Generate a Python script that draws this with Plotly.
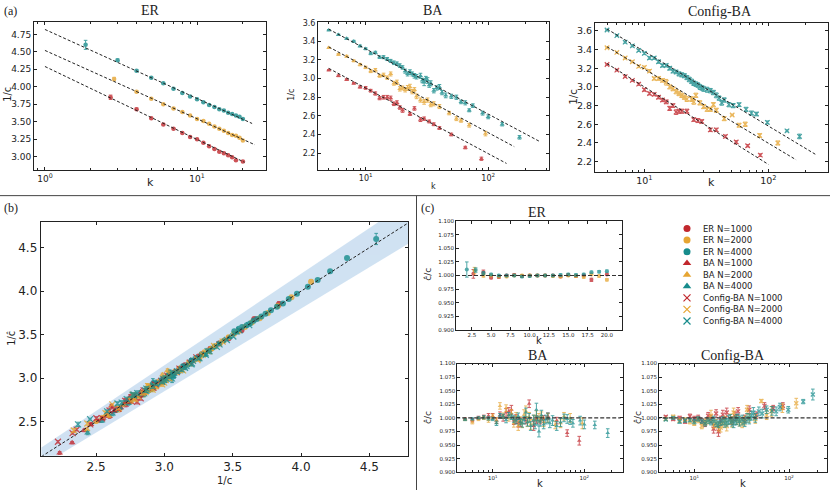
import plotly.graph_objects as go

W, H = 830, 493

RED = '#c1272d'
ORANGE = '#e6a532'
TEAL = '#178c8c'

# ---------------- ER ----------------
er1_k = [2.7, 4, 5, 6, 7, 8, 9, 10, 11, 12, 13, 14, 15, 16, 17, 18, 20]
er1_ic = [3.85, 3.68, 3.55, 3.46, 3.40, 3.34, 3.28, 3.25, 3.20, 3.15, 3.11, 3.07, 3.05, 3.02, 2.99, 2.95, 2.93]
er1_r = [1.003, 1.006, 0.996, 0.997, 1.000, 1.001, 0.999, 1.000, 1.000, 1.000, 1.000, 0.998, 1.001, 0.999, 1.000, 0.992, 1.002]
er1_e = [0.008, 0.004, 0.002, 0.002, 0.002, 0.002, 0.002, 0.002, 0.002, 0.002, 0.002, 0.002, 0.002, 0.002, 0.002, 0.003, 0.002]

er2_k = [2.85, 4, 5, 6, 7, 8, 9, 10, 11, 12, 13, 14, 15, 16, 17, 18, 19, 20]
er2_ic = [4.11, 3.93, 3.83, 3.75, 3.69, 3.64, 3.59, 3.54, 3.51, 3.47, 3.43, 3.40, 3.37, 3.34, 3.31, 3.30, 3.27, 3.23]
er2_r = [1.009, 1.000, 1.000, 0.998, 0.998, 1.000, 1.000, 1.000, 1.000, 1.000, 0.999, 0.998, 1.000, 0.999, 0.997, 1.002, 0.999, 0.992]
er2_e = [0.006, 0.003, 0.002, 0.002, 0.002, 0.002, 0.002, 0.002, 0.002, 0.002, 0.002, 0.002, 0.002, 0.002, 0.002, 0.002, 0.002, 0.002]

er4_k = [1.85, 3, 4, 5, 6, 7, 8, 9, 10, 11, 12, 13, 14, 15, 16, 17, 18, 19, 20]
er4_ic = [4.60, 4.38, 4.23, 4.13, 4.05, 3.97, 3.91, 3.86, 3.82, 3.78, 3.74, 3.71, 3.68, 3.66, 3.63, 3.61, 3.59, 3.57, 3.54]
er4_r = [1.011, 1.010, 1.004, 1.002, 1.000, 1.000, 1.000, 0.998, 0.999, 1.000, 1.000, 1.000, 1.001, 1.002, 1.001, 1.002, 1.006, 1.007, 1.008]
er4_e = [0.014, 0.004, 0.003, 0.002, 0.002, 0.002, 0.002, 0.002, 0.002, 0.002, 0.002, 0.002, 0.002, 0.002, 0.002, 0.002, 0.002, 0.002, 0.002]

# ---------------- BA ----------------
ba1_k = [5, 6, 7, 8, 9, 10, 11, 12, 13, 14, 15, 16, 17, 18, 19, 20, 23, 25, 28, 30, 33, 36, 40, 50, 65, 88]
ba1_ic = [3.09, 3.03, 2.99, 2.95, 2.91, 2.90, 2.87, 2.84, 2.79, 2.80, 2.80, 2.79, 2.73, 2.74, 2.69, 2.66,
          2.62, 2.68, 2.56, 2.57, 2.54, 2.51, 2.47, 2.40, 2.26, 2.14]
ba1_r = [0.998, 0.996, 1.000, 1.002, 1.004, 1.003, 0.995, 1.005, 1.000, 1.010, 1.012, 1.015, 0.995, 0.998,
         0.990, 0.992, 0.995, 1.026, 0.985, 0.997, 0.995, 0.998, 1.003, 0.995, 0.972, 0.958]
ba1_e = [0.002, 0.003, 0.003, 0.003, 0.004, 0.005, 0.005, 0.006, 0.006, 0.007, 0.007, 0.008, 0.007, 0.008,
         0.007, 0.008, 0.006, 0.007, 0.008, 0.007, 0.006, 0.006, 0.006, 0.006, 0.006, 0.008]

ba2_k = [5, 6, 7, 8, 9, 10, 11, 12, 13, 14, 15, 16, 17, 18, 19, 20, 21, 22, 23, 24, 25, 26,
         28, 30, 32, 34, 36, 40, 48, 55, 60, 70, 95]
ba2_ic = [3.33, 3.26, 3.24, 3.19, 3.15, 3.12, 3.08, 3.09, 3.03, 3.04, 3.01, 3.05, 2.95, 2.96, 2.89, 2.90,
          2.88, 2.90, 2.91, 2.86, 2.88, 2.81, 2.77, 2.75, 2.77, 2.72, 2.73, 2.70, 2.63, 2.57, 2.55, 2.50, 2.41]
ba2_r = [0.997, 0.992, 0.998, 1.000, 0.996, 1.003, 0.995, 1.022, 1.004, 1.018, 1.000, 1.008, 0.990, 1.002,
         0.985, 0.995, 0.990, 1.006, 1.012, 0.992, 1.002, 0.988, 0.997, 1.004, 1.000, 1.003, 0.992, 1.000,
         0.987, 0.990, 1.003, 1.000, 0.990]
ba2_e = [0.002, 0.003, 0.003, 0.003, 0.004, 0.004, 0.005, 0.006, 0.005, 0.006, 0.006, 0.007, 0.007, 0.008,
         0.008, 0.007, 0.008, 0.009, 0.010, 0.008, 0.008, 0.009, 0.008, 0.009, 0.008, 0.008, 0.008, 0.008,
         0.007, 0.008, 0.007, 0.008, 0.010]

ba4_k = [5, 6, 7, 8, 9, 10, 11, 12, 13, 14, 15, 16, 17, 18, 19, 20, 21, 22, 23, 24, 25, 26,
         28, 29, 30, 31, 32, 33, 34, 36, 38, 40, 42, 45, 50, 55, 60, 65, 70, 75, 90, 100, 130, 180]
ba4_ic = [3.52, 3.47, 3.43, 3.40, 3.35, 3.32, 3.27, 3.28, 3.23, 3.23, 3.21, 3.19, 3.17, 3.16, 3.14, 3.12,
          3.08, 3.05, 3.07, 3.05, 3.03, 3.02, 3.03, 2.98, 2.96, 3.00, 2.98, 2.93, 2.95, 2.87, 2.90, 2.91,
          2.85, 2.82, 2.81, 2.80, 2.75, 2.74, 2.66, 2.71, 2.63, 2.59, 2.51, 2.37]
ba4_r = [0.997, 0.998, 1.000, 1.001, 0.999, 0.998, 0.990, 1.004, 1.003, 0.996, 1.005, 1.002, 0.998, 0.995,
         1.003, 0.993, 0.990, 0.996, 1.010, 0.992, 1.000, 0.985, 0.996, 0.988, 1.015, 0.995, 0.975, 0.993,
         1.005, 0.988, 0.997, 1.000, 0.990, 0.995, 0.985, 0.992, 1.000, 0.998, 0.994, 0.990, 0.995, 0.988,
         0.987, 0.972]
ba4_e = [0.002, 0.002, 0.002, 0.003, 0.003, 0.003, 0.004, 0.004, 0.004, 0.005, 0.005, 0.005, 0.006, 0.006,
         0.006, 0.006, 0.007, 0.007, 0.008, 0.007, 0.008, 0.008, 0.009, 0.008, 0.012, 0.008, 0.010, 0.008,
         0.009, 0.008, 0.008, 0.009, 0.008, 0.009, 0.008, 0.008, 0.007, 0.008, 0.006, 0.007, 0.008, 0.008,
         0.007, 0.008]

# ---------------- Config-BA ----------------
cb1_k = [5, 6, 7, 8, 9, 10, 11, 12, 13, 14, 15, 16, 17, 18, 19, 20, 22, 25, 27, 29, 34, 38, 45, 55, 68, 86]
cb1_ic = [3.24, 3.18, 3.11, 3.07, 3.03, 2.97, 2.93, 2.92, 2.89, 2.86, 2.84, 2.77, 2.80, 2.73, 2.74, 2.74,
          2.74, 2.65, 2.64, 2.63, 2.54, 2.54, 2.47, 2.41, 2.37, 2.27]
cb1_r = [1.002, 0.998, 1.000, 0.993, 1.003, 0.998, 1.000, 0.994, 0.990, 1.004, 0.998, 0.980, 1.008, 0.975,
         0.995, 1.006, 1.010, 0.995, 1.003, 1.012, 0.998, 1.015, 1.005, 1.022, 1.018, 1.022]
cb1_e = [0.002, 0.003, 0.003, 0.003, 0.004, 0.005, 0.005, 0.005, 0.006, 0.006, 0.007, 0.008, 0.007, 0.009,
         0.008, 0.008, 0.008, 0.007, 0.008, 0.007, 0.007, 0.007, 0.006, 0.006, 0.005, 0.006]

cb2_k = [5, 6, 7, 8, 9, 10, 11, 12, 13, 14, 15, 16, 17, 18, 19, 20, 21, 22,
         24, 25, 26, 28, 30, 32, 34, 36, 38, 44, 51, 58, 65, 85, 119]
cb2_ic = [3.42, 3.37, 3.31, 3.27, 3.22, 3.21, 3.17, 3.09, 3.09, 3.07, 3.05, 3.00, 2.98, 2.95, 2.93, 2.91,
          2.89, 2.87, 2.87, 2.84, 2.91, 2.83, 2.79, 2.76, 2.76, 2.81, 2.75, 2.66, 2.70, 2.59, 2.60, 2.48, 2.40]
cb2_r = [0.998, 1.002, 0.995, 0.997, 0.993, 0.990, 0.996, 0.985, 0.992, 0.995, 1.004, 0.988, 0.990, 0.984,
         0.982, 0.990, 0.995, 0.985, 0.998, 0.992, 1.010, 0.996, 0.993, 0.990, 0.995, 1.015, 1.000, 0.998,
         1.031, 1.005, 1.012, 1.018, 1.027]
cb2_e = [0.002, 0.003, 0.003, 0.003, 0.004, 0.004, 0.005, 0.005, 0.006, 0.006, 0.010, 0.007, 0.007, 0.008,
         0.008, 0.008, 0.008, 0.009, 0.009, 0.009, 0.008, 0.008, 0.008, 0.008, 0.008, 0.008, 0.008, 0.008,
         0.003, 0.008, 0.009, 0.008, 0.009]

cb4_k = [5, 6, 7, 8, 9, 10, 11, 12, 13, 14, 15, 16, 17, 18, 19, 20, 21, 22, 23, 24, 25, 26, 27, 28, 29, 30,
         32, 34, 36, 38, 40, 42, 44, 48, 52, 58, 66, 73, 80, 98, 141, 178]
cb4_ic = [3.61, 3.55, 3.48, 3.44, 3.39, 3.36, 3.31, 3.31, 3.27, 3.23, 3.23, 3.20, 3.17, 3.16, 3.14, 3.13,
          3.12, 3.10, 3.08, 3.06, 3.04, 3.03, 3.02, 3.00, 2.99, 2.98, 2.97, 2.96, 2.94, 2.91, 2.88, 2.83,
          2.86, 2.81, 2.80, 2.81, 2.76, 2.72, 2.71, 2.62, 2.53, 2.47]
cb4_r = [0.997, 1.000, 0.993, 0.995, 0.996, 0.993, 0.998, 0.994, 0.990, 0.995, 0.992, 0.997, 0.990, 0.988,
         0.993, 0.995, 0.990, 0.992, 0.996, 0.998, 0.993, 0.990, 0.995, 0.997, 0.999, 0.994, 0.996, 0.992,
         1.000, 0.998, 1.004, 1.010, 1.000, 1.012, 1.008, 1.015, 1.013, 1.012, 1.020, 1.015, 1.030, 1.043]
cb4_e = [0.002, 0.002, 0.003, 0.003, 0.003, 0.004, 0.004, 0.004, 0.005, 0.005, 0.005, 0.006, 0.006, 0.006,
         0.007, 0.007, 0.007, 0.007, 0.008, 0.008, 0.008, 0.008, 0.008, 0.009, 0.008, 0.009, 0.009, 0.008,
         0.008, 0.009, 0.008, 0.009, 0.008, 0.008, 0.008, 0.007, 0.008, 0.008, 0.007, 0.006, 0.004, 0.010]

# fitted dashed lines in (a): [k_start, k_end], [1/c_start, 1/c_end]
fit_k = {'ER': [[1, 20.5], [1, 24], [1, 23]],
         'BA': [[5, 141], [5, 163], [5, 259]],
         'CBA': [[5, 100], [5, 167], [5, 245]]}
fit_ic = {'ER': [[4.29, 2.92], [4.52, 3.17], [4.82, 3.475]],
          'BA': [[3.11, 2.09], [3.34, 2.27], [3.53, 2.33]],
          'CBA': [[3.25, 2.17], [3.43, 2.22], [3.62, 2.27]]}

band_frac = 0.05
b_lim = [2.1, 4.8]

log_ticks = [1, 10, 100]
log_labels = ['10<sup>0</sup>', '10<sup>1</sup>', '10<sup>2</sup>']

colors = [RED, ORANGE, TEAL]
sizes = [1000, 2000, 4000]
nets = [
    ('ER', 'ER', 'circle', [(er1_k, er1_ic, er1_r, er1_e), (er2_k, er2_ic, er2_r, er2_e), (er4_k, er4_ic, er4_r, er4_e)]),
    ('BA', 'BA', 'triangle-up', [(ba1_k, ba1_ic, ba1_r, ba1_e), (ba2_k, ba2_ic, ba2_r, ba2_e), (ba4_k, ba4_ic, ba4_r, ba4_e)]),
    ('CBA', 'Config-BA', 'x-thin-open', [(cb1_k, cb1_ic, cb1_r, cb1_e), (cb2_k, cb2_ic, cb2_r, cb2_e), (cb4_k, cb4_ic, cb4_r, cb4_e)]),
]
# axis ids: panel (a), panel (c)
ax_a = {'ER': ('x', 'y'), 'BA': ('x2', 'y2'), 'CBA': ('x3', 'y3')}
ax_c = {'ER': ('x5', 'y5'), 'BA': ('x6', 'y6'), 'CBA': ('x7', 'y7')}


def marker(sym, col, size):
    m = dict(symbol=sym, size=size, color=col)
    if sym.startswith('x-thin'):
        m['line'] = dict(color=col, width=1.2)
    else:
        m['line'] = dict(width=0)
    return m


def errbar(arr, col):
    return dict(type='data', array=arr, color=col, thickness=1, width=1.8)


fig = go.Figure()

# (b) band first so points sit on top
fig.add_trace(go.Scatter(x=b_lim, y=[v * (1 - band_frac) for v in b_lim], mode='lines',
                         xaxis='x4', yaxis='y4', line=dict(width=0), showlegend=False, hoverinfo='skip'))
fig.add_trace(go.Scatter(x=b_lim, y=[v * (1 + band_frac) for v in b_lim], mode='lines',
                         xaxis='x4', yaxis='y4', line=dict(width=0), fill='tonexty',
                         fillcolor='rgba(120,172,218,0.35)', showlegend=False, hoverinfo='skip'))

for key, name, sym, data in nets:
    for i, (k, ic, r, e) in enumerate(data):
        col = colors[i]
        xa, ya = ax_a[key]
        # (a) 1/c vs k
        fig.add_trace(go.Scatter(
            x=k, y=ic, mode='markers', xaxis=xa, yaxis=ya, opacity=0.8,
            marker=marker(sym, col, 4.5),
            error_y=errbar([v * ee for v, ee in zip(ic, e)], col),
            showlegend=False, hoverinfo='skip'))
        # (c) ratio vs k
        xc, yc = ax_c[key]
        fig.add_trace(go.Scatter(
            x=k, y=r, mode='markers', xaxis=xc, yaxis=yc, opacity=0.75,
            marker=marker(sym, col, 4),
            error_y=errbar(e, col),
            showlegend=False, hoverinfo='skip'))
        # (b) estimated vs measured
        fig.add_trace(go.Scatter(
            x=[v / rr for v, rr in zip(ic, r)], y=ic, mode='markers', xaxis='x4', yaxis='y4', opacity=0.8,
            marker=marker(sym, col, 6),
            error_y=errbar([v * ee for v, ee in zip(ic, e)], col),
            showlegend=False, hoverinfo='skip'))
    for i in range(3):
        xa, ya = ax_a[key]
        fig.add_trace(go.Scatter(
            x=fit_k[key][i], y=fit_ic[key][i], mode='lines', xaxis=xa, yaxis=ya,
            line=dict(color='#222', width=1, dash='3px,2px'), showlegend=False, hoverinfo='skip'))
    xc, yc = ax_c[key]
    xr = [0.45, 22.0] if key == 'ER' else [4, 250]
    fig.add_trace(go.Scatter(
        x=xr, y=[1, 1], mode='lines', xaxis=xc, yaxis=yc,
        line=dict(color='#333', width=1.1, dash='4px,2px'), showlegend=False, hoverinfo='skip'))

fig.add_trace(go.Scatter(x=b_lim, y=b_lim, mode='lines', xaxis='x4', yaxis='y4',
                         line=dict(color='#222', width=1, dash='3px,2px'), showlegend=False, hoverinfo='skip'))

# legend drawn on a pixel-coordinate overlay axis
leg_x0, leg_y0, leg_dy = 687, 228.3, 11.7
row = 0
for key, name, sym, data in nets:
    for i in range(3):
        y = leg_y0 + row * leg_dy
        fig.add_trace(go.Scatter(x=[leg_x0], y=[y], mode='markers', xaxis='x8', yaxis='y8',
                                 marker=marker(sym, colors[i], 7 if sym != 'triangle-up' else 7.5),
                                 showlegend=False, hoverinfo='skip'))
        fig.add_annotation(x=701, y=y, xref='x8', yref='y8', text=f'{name} N={sizes[i]}', showarrow=False,
                           xanchor='left', yanchor='middle', font=dict(family='DejaVu Sans', size=8.5, color='#222'))
        row += 1


def px(v):
    return v / W


def py(v):
    return 1 - v / H


def axis(x0, x1, rng, fs, **kw):
    d = dict(domain=[x0, x1], range=rng, showline=True, linecolor='#222', linewidth=1,
             mirror='allticks', ticks='inside', ticklen=3, tickcolor='#222', showgrid=False,
             zeroline=False, tickfont=dict(family='DejaVu Sans', size=fs, color='#222'))
    d.update(kw)
    return d


logminor = dict(ticks='inside', ticklen=1.8, tickcolor='#222', dtick='D1')
logkw = dict(type='log', tickvals=log_ticks, ticktext=log_labels, minor=logminor)

fig.update_layout(
    width=W, height=H, margin=dict(l=0, r=0, t=0, b=0),
    paper_bgcolor='white', plot_bgcolor='rgba(0,0,0,0)',
    # (a)
    xaxis=axis(px(34), px(266), [-0.072, 1.453], 9, anchor='y', **logkw),
    yaxis=axis(py(169), py(19), [2.81, 4.93], 9, anchor='x', dtick=0.25, tickformat='.2f'),
    xaxis2=axis(px(318), px(549), [0.611, 2.496], 8, anchor='y2', **logkw),
    yaxis2=axis(py(169), py(19), [2.02, 3.61], 8, anchor='x2', dtick=0.2, tickformat='.1f'),
    xaxis3=axis(px(595), px(828), [0.602, 2.48], 9.5, anchor='y3', **logkw),
    yaxis3=axis(py(171), py(20.7), [2.09, 3.68], 9.5, anchor='x3', dtick=0.2, tickformat='.1f'),
    # (b)
    xaxis4=axis(px(40.7), px(408.3), [2.095, 4.785], 12, anchor='y4', dtick=0.5, tickformat='.1f'),
    yaxis4=axis(py(458.3), py(221.7), [2.11, 4.795], 12, anchor='x4', dtick=0.5, tickformat='.1f'),
    # (c)
    xaxis5=axis(px(456), px(622.3), [0.45, 22.0], 5.5, anchor='y5', dtick=2.5, tick0=0, tickformat='.1f'),
    yaxis5=axis(py(330.7), py(221), [0.9, 1.1], 5.5, anchor='x5', dtick=0.025, tickformat='.3f'),
    xaxis6=axis(px(457.3), px(623.3), [0.614, 2.425], 5.5, anchor='y6', **logkw),
    yaxis6=axis(py(475), py(365), [0.9, 1.1], 5.5, anchor='x6', dtick=0.025, tickformat='.3f'),
    xaxis7=axis(px(659), px(827.3), [0.628, 2.403], 5.5, anchor='y7', **logkw),
    yaxis7=axis(py(475), py(365), [0.9, 1.1], 5.5, anchor='x7', dtick=0.025, tickformat='.3f'),
    # legend overlay
    xaxis8=dict(domain=[px(675), px(800)], range=[675, 800], visible=False, anchor='y8'),
    yaxis8=dict(domain=[py(330), py(220)], range=[330, 220], visible=False, anchor='x8'),
)

SERIF = 'Liberation Serif'
SANS = 'DejaVu Sans'


def ann(text, x, y, size, family=SANS, angle=0, xanchor='center'):
    fig.add_annotation(text=text, x=px(x), y=py(y), xref='paper', yref='paper', showarrow=False,
                       xanchor=xanchor, yanchor='middle', textangle=angle,
                       font=dict(family=family, size=size, color='#222'))


ann('(a)', 2, 8, 12, SERIF, xanchor='left')
ann('(b)', 2, 208, 12, SERIF, xanchor='left')
ann('(c)', 419, 208, 12, SERIF, xanchor='left')
ann('ER', 150, 8, 14, SERIF)
ann('BA', 433, 8, 14, SERIF)
ann('Config-BA', 720, 9, 14, SERIF)
ann('ER', 537, 212, 14, SERIF)
ann('BA', 538, 357, 14, SERIF)
ann('Config-BA', 733, 357, 14, SERIF)

ann('1/c', 8, 93, 10, angle=-90)
ann('k', 150, 182, 11)
ann('1/c', 292, 93, 8, angle=-90)
ann('k', 433, 186, 8)
ann('1/c', 573, 95, 10.5, angle=-90)
ann('k', 711, 182, 11)
ann('1/c\u0302', 12, 340, 10, angle=-90)
ann('1/c', 224, 483, 10)
ann('c\u0302/c', 428, 275, 9, angle=-90)
ann('k', 539, 342, 10)
ann('c\u0302/c', 428, 420, 9, angle=-90)
ann('k', 540, 486, 10)
ann('c\u0302/c', 638, 420, 9, angle=-90)
ann('k', 743, 486, 10)

# separators
fig.add_shape(type='line', xref='paper', yref='paper', x0=0, x1=1, y0=py(195), y1=py(195),
              line=dict(color='#444', width=1))
fig.add_shape(type='line', xref='paper', yref='paper', x0=px(416.5), x1=px(416.5), y0=0, y1=py(195),
              line=dict(color='#444', width=1))

fig.write_html("out.html", config={'displayModeBar': False},
               post_script="document.body.style.margin='0';")
